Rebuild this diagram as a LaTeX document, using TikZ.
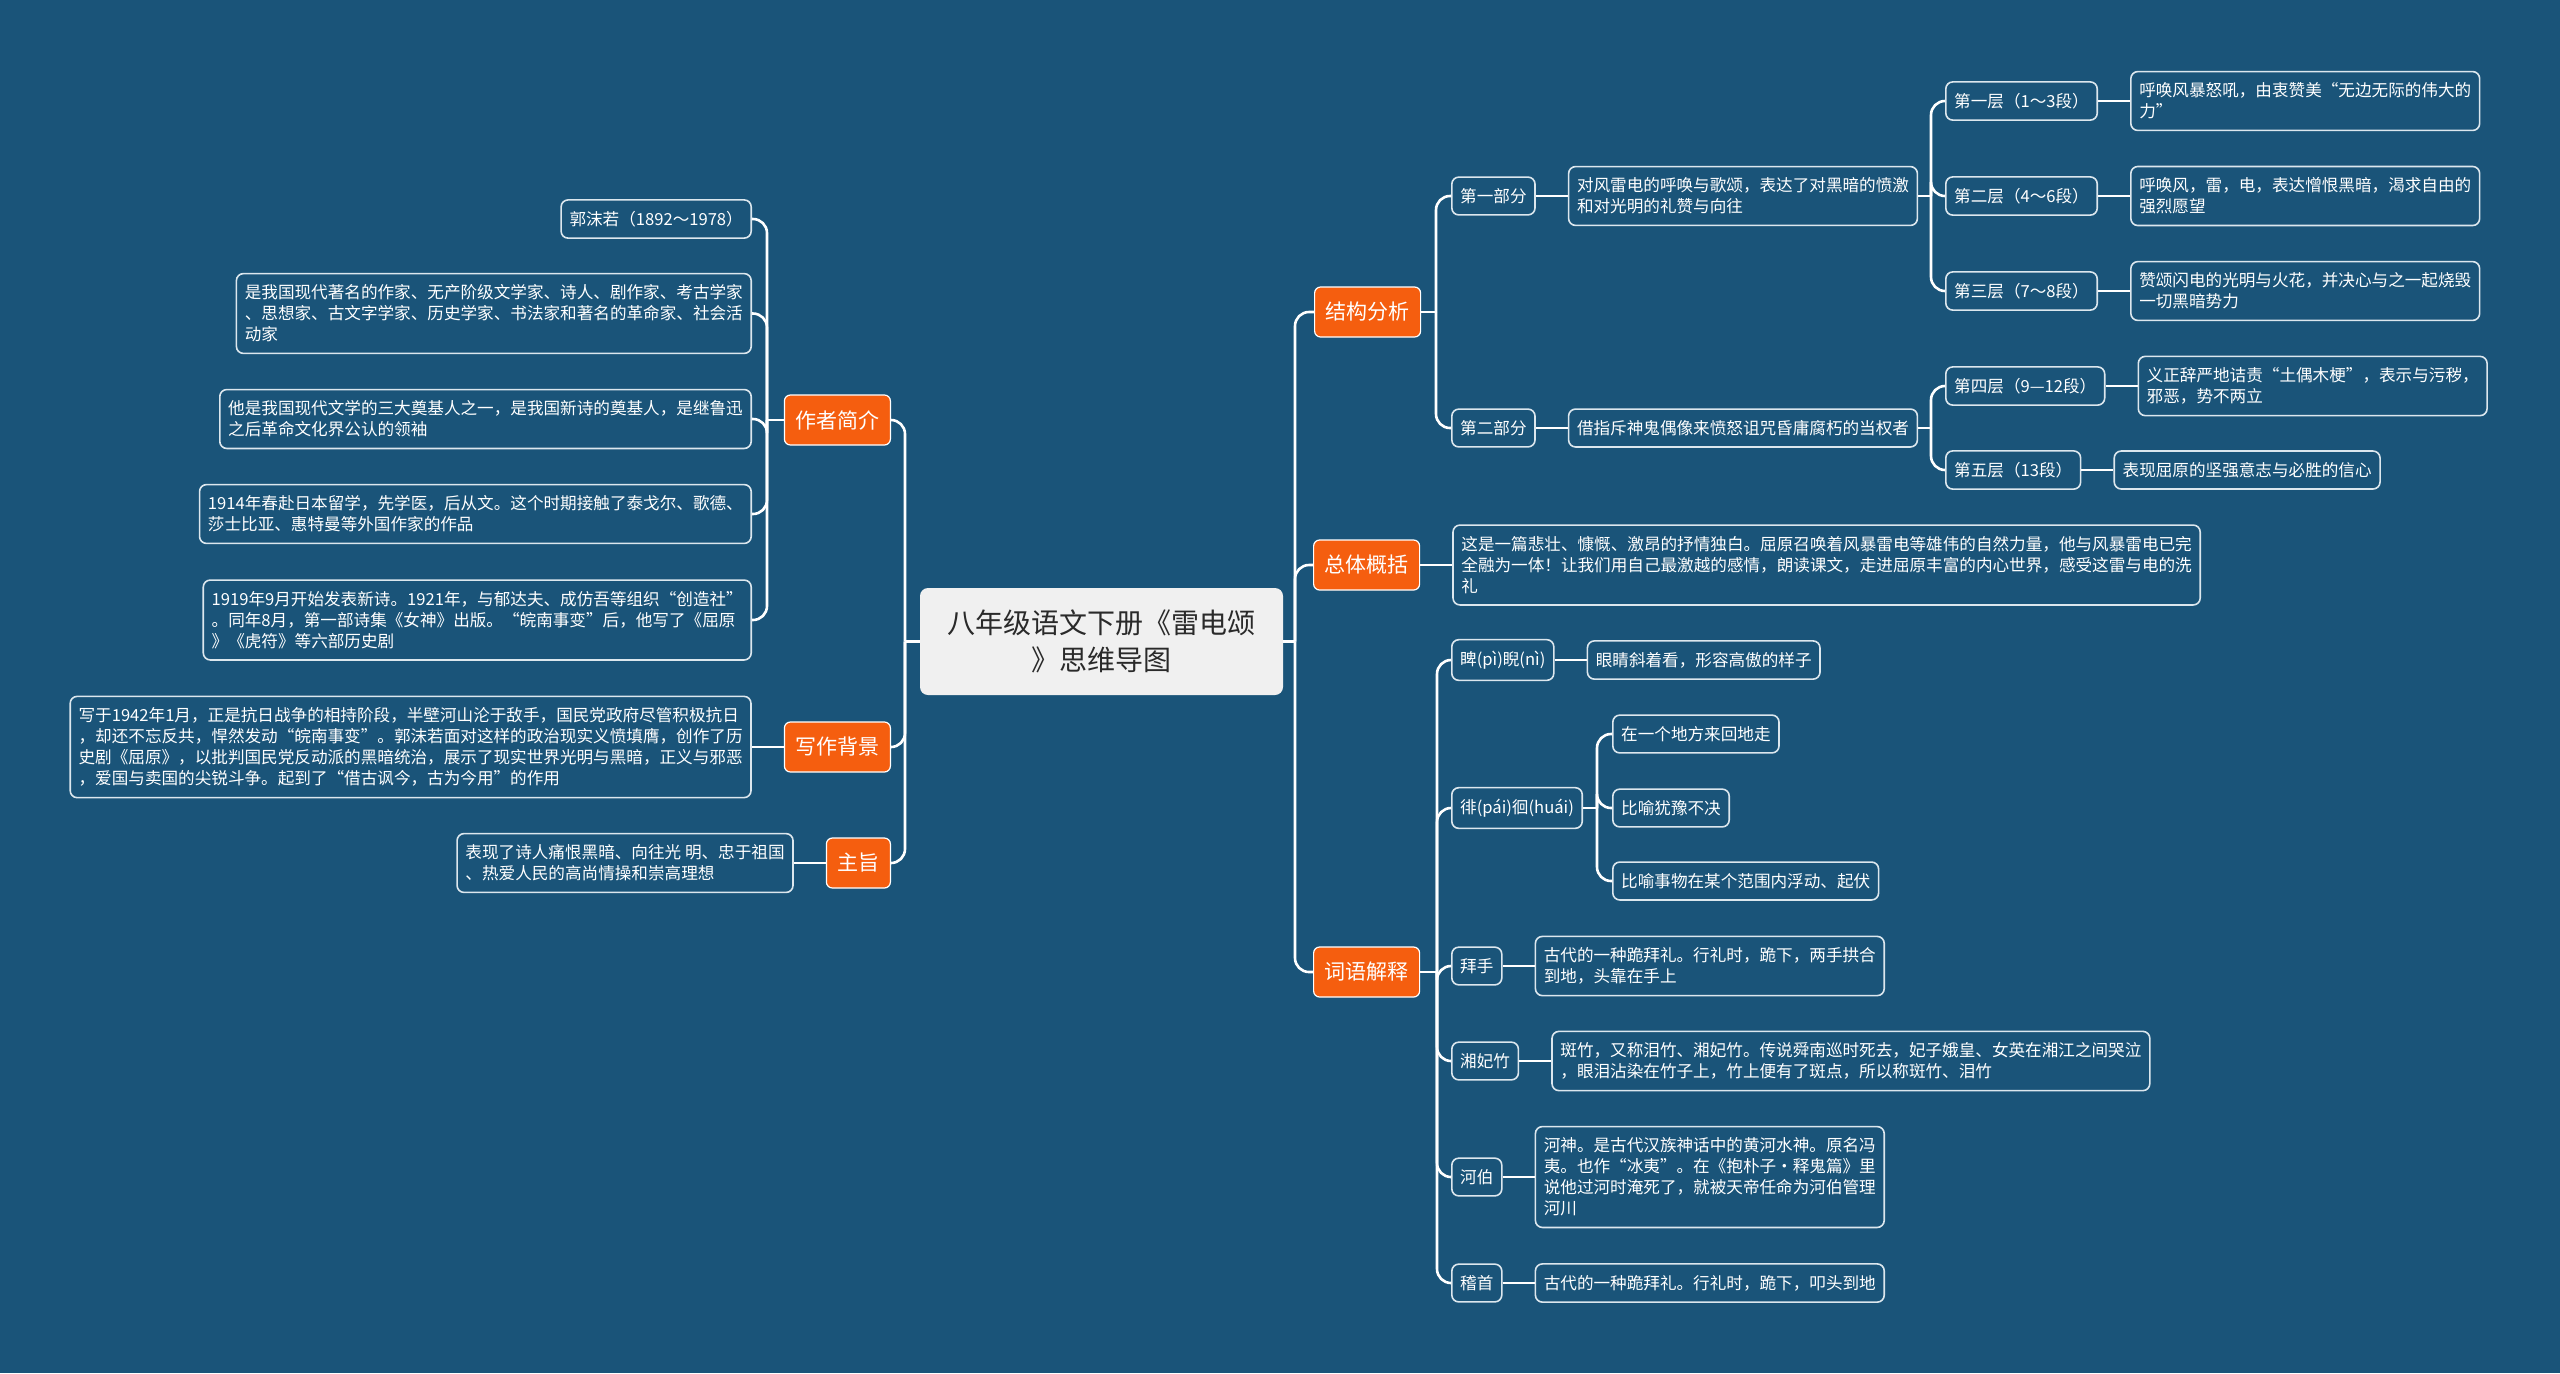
\documentclass[tikz,border=0pt]{standalone}
\usepackage{fontspec}
\setmainfont{Noto Sans CJK SC}
\usetikzlibrary{positioning}
\definecolor{bg}{HTML}{1A5479}
\definecolor{hot}{HTML}{F55E0F}
\definecolor{rim}{HTML}{DCE7EE}
\definecolor{pale}{HTML}{F0F0F0}
\definecolor{ink}{HTML}{2A2A2A}
\tikzset{
  root/.style={fill=pale, rounded corners=4pt, text=ink, align=center, font=\fontsize{14}{18.3}\selectfont, minimum width=181.5pt, minimum height=53.5pt, inner sep=0pt},
  topic/.style={fill=hot, draw=white, line width=0.6pt, rounded corners=3pt, text=white, font=\fontsize{10.5}{13}\selectfont, inner xsep=5.5pt, minimum height=25pt},
  leaf/.style={draw=rim, line width=0.8pt, rounded corners=3.5pt, fill=bg, text=white, align=left, font=\fontsize{8.3}{10.5}\selectfont, inner xsep=4.2pt, inner ysep=5.6pt},
  link/.style={draw=white, line width=1.3pt, rounded corners=7pt},
}

\begin{document}
\begin{tikzpicture}[x=0.5pt, y=-0.5pt, node distance=16pt]
\fill[bg] (0,0) rectangle (2560,1373);

% ---------------- root ----------------
\node[root] (rt) at (1101.5,641.5) {八年级语文下册《雷电颂\\》思维导图};

% ---------------- left topics ----------------
\node[topic, anchor=east] (zz) at (891,420) {作者简介};
\node[topic, anchor=east] (xz) at (891,747) {写作背景};
\node[topic, anchor=east] (zy) at (891,863) {主旨};

\node[leaf, anchor=east] (a1) at (752,219) {郭沫若（1892～1978）};
\node[leaf, anchor=east] (a2) at (752,313.5) {是我国现代著名的作家、无产阶级文学家、诗人、剧作家、考古学家\\、思想家、古文字学家、历史学家、书法家和著名的革命家、社会活\\动家};
\node[leaf, anchor=east] (a3) at (752,419) {他是我国现代文学的三大奠基人之一，是我国新诗的奠基人，是继鲁迅\\之后革命文化界公认的领袖};
\node[leaf, anchor=east] (a4) at (752,514) {1914年春赴日本留学，先学医，后从文。这个时期接触了泰戈尔、歌德、\\莎士比亚、惠特曼等外国作家的作品};
\node[leaf, anchor=east] (a5) at (752,620) {1919年9月开始发表新诗。1921年，与郁达夫、成仿吾等组织“创造社”\\。同年8月，第一部诗集《女神》出版。“皖南事变”后，他写了《屈原\\》《虎符》等六部历史剧};
\node[leaf, left=of xz] (b1) {写于1942年1月，正是抗日战争的相持阶段，半壁河山沦于敌手，国民党政府尽管积极抗日\\，却还不忘反共，悍然发动“皖南事变”。郭沫若面对这样的政治现实义愤填膺，创作了历\\史剧《屈原》，以批判国民党反动派的黑暗统治，展示了现实世界光明与黑暗，正义与邪恶\\，爱国与卖国的尖锐斗争。起到了“借古讽今，古为今用”的作用};
\node[leaf, left=of zy] (c1) {表现了诗人痛恨黑暗、向往光 明、忠于祖国\\、热爱人民的高尚情操和崇高理想};

% ---------------- right topics ----------------
\node[topic, anchor=west] (jg) at (1314,312) {结构分析};
\node[topic, anchor=west] (zt) at (1313,565) {总体概括};
\node[topic, anchor=west] (cy) at (1313,972) {词语解释};

% structure
\node[leaf, anchor=west] (p1) at (1451,196) {第一部分};
\node[leaf, right=of p1] (p1d) {对风雷电的呼唤与歌颂，表达了对黑暗的愤激\\和对光明的礼赞与向往};
\node[leaf, anchor=west] (p2) at (1451,428) {第二部分};
\node[leaf, right=of p2] (p2d) {借指斥神鬼偶像来愤怒诅咒昏庸腐朽的当权者};
\node[leaf, anchor=west] (L1) at (1945,101) {第一层（1～3段）};
\node[leaf, right=of L1] (d1) {呼唤风暴怒吼，由衷赞美“无边无际的伟大的\\力”};
\node[leaf, anchor=west] (L2) at (1945,196) {第二层（4～6段）};
\node[leaf, right=of L2] (d2) {呼唤风，雷，电，表达憎恨黑暗，渴求自由的\\强烈愿望};
\node[leaf, anchor=west] (L3) at (1945,291) {第三层（7～8段）};
\node[leaf, right=of L3] (d3) {赞颂闪电的光明与火花，并决心与之一起烧毁\\一切黑暗势力};
\node[leaf, anchor=west] (L4) at (1945,386) {第四层（9—12段）};
\node[leaf, right=of L4] (d4) {义正辞严地诘责“土偶木梗”，表示与污秽，\\邪恶，势不两立};
\node[leaf, anchor=west] (L5) at (1945,470) {第五层（13段）};
\node[leaf, right=of L5] (d5) {表现屈原的坚强意志与必胜的信心};

% summary
\node[leaf, right=of zt] (ztd) {这是一篇悲壮、慷慨、激昂的抒情独白。屈原召唤着风暴雷电等雄伟的自然力量，他与风暴雷电已完\\全融为一体！让我们用自己最激越的感情，朗读课文，走进屈原丰富的内心世界，感受这雷与电的洗\\礼};

% words
\node[leaf, anchor=west] (w1) at (1451,660) {睥(pì)睨(nì)};
\node[leaf, right=of w1] (e1) {眼睛斜着看，形容高傲的样子};
\node[leaf, anchor=west] (w2) at (1451,808) {徘(pái)徊(huái)};
\node[leaf, anchor=west] (f1) at (1612,734) {在一个地方来回地走};
\node[leaf, anchor=west] (f2) at (1612,808) {比喻犹豫不决};
\node[leaf, anchor=west] (f3) at (1612,881) {比喻事物在某个范围内浮动、起伏};
\node[leaf, anchor=west] (w3) at (1451,966) {拜手};
\node[leaf, right=of w3] (e3) {古代的一种跪拜礼。行礼时，跪下，两手拱合\\到地，头靠在手上};
\node[leaf, anchor=west] (w4) at (1451,1061) {湘妃竹};
\node[leaf, right=of w4] (e4) {斑竹，又称泪竹、湘妃竹。传说舜南巡时死去，妃子娥皇、女英在湘江之间哭泣\\，眼泪沾染在竹子上，竹上便有了斑点，所以称斑竹、泪竹};
\node[leaf, anchor=west] (w5) at (1451,1177) {河伯};
\node[leaf, right=of w5] (e5) {河神。是古代汉族神话中的黄河水神。原名冯\\夷。也作“冰夷”。在《抱朴子·释鬼篇》里\\说他过河时淹死了，就被天帝任命为河伯管理\\河川};
\node[leaf, anchor=west] (w6) at (1451,1283) {稽首};
\node[leaf, right=of w6] (e6) {古代的一种跪拜礼。行礼时，跪下，叩头到地};

% ---------------- links ----------------
\coordinate (lt) at (905,641.5);
\coordinate (rtr) at (1295,641.5);
\coordinate (zzt) at (767,420);
\coordinate (jgt) at (1436,312);
\coordinate (p1t) at (1931,196);
\coordinate (p2t) at (1931,428);
\coordinate (cyt) at (1437,972);
\coordinate (w2t) at (1597,808);
\draw[link] (rt.west) -- (lt);
\draw[link] (rt.east) -- (rtr);
\foreach \t in {zz,xz,zy} { \draw[link] (lt) |- (\t.east); }
\foreach \t in {jg,zt,cy} { \draw[link] (rtr) |- (\t.west); }
\draw[link] (zz.west) -- (zzt);
\foreach \l in {a1,a2,a3,a4,a5} { \draw[link] (zzt) |- (\l.east); }
\draw[link] (xz) -- (b1);
\draw[link] (zy) -- (c1);
\draw[link] (jg.east) -- (jgt);
\foreach \l in {p1,p2} { \draw[link] (jgt) |- (\l.west); }
\draw[link] (p1) -- (p1d);
\draw[link] (p2) -- (p2d);
\draw[link] (p1d.east) -- (p1t);
\draw[link] (p2d.east) -- (p2t);
\foreach \l in {L1,L2,L3} { \draw[link] (p1t) |- (\l.west); }
\foreach \l in {L4,L5} { \draw[link] (p2t) |- (\l.west); }
\foreach \l/\d in {L1/d1,L2/d2,L3/d3,L4/d4,L5/d5} { \draw[link] (\l) -- (\d); }
\draw[link] (zt) -- (ztd);
\draw[link] (cy.east) -- (cyt);
\foreach \w in {w1,w2,w3,w4,w5,w6} { \draw[link] (cyt) |- (\w.west); }
\draw[link] (w2.east) -- (w2t);
\foreach \f in {f1,f2,f3} { \draw[link] (w2t) |- (\f.west); }
\foreach \w/\e in {w1/e1,w3/e3,w4/e4,w5/e5,w6/e6} { \draw[link] (\w) -- (\e); }

\end{tikzpicture}
\end{document}
